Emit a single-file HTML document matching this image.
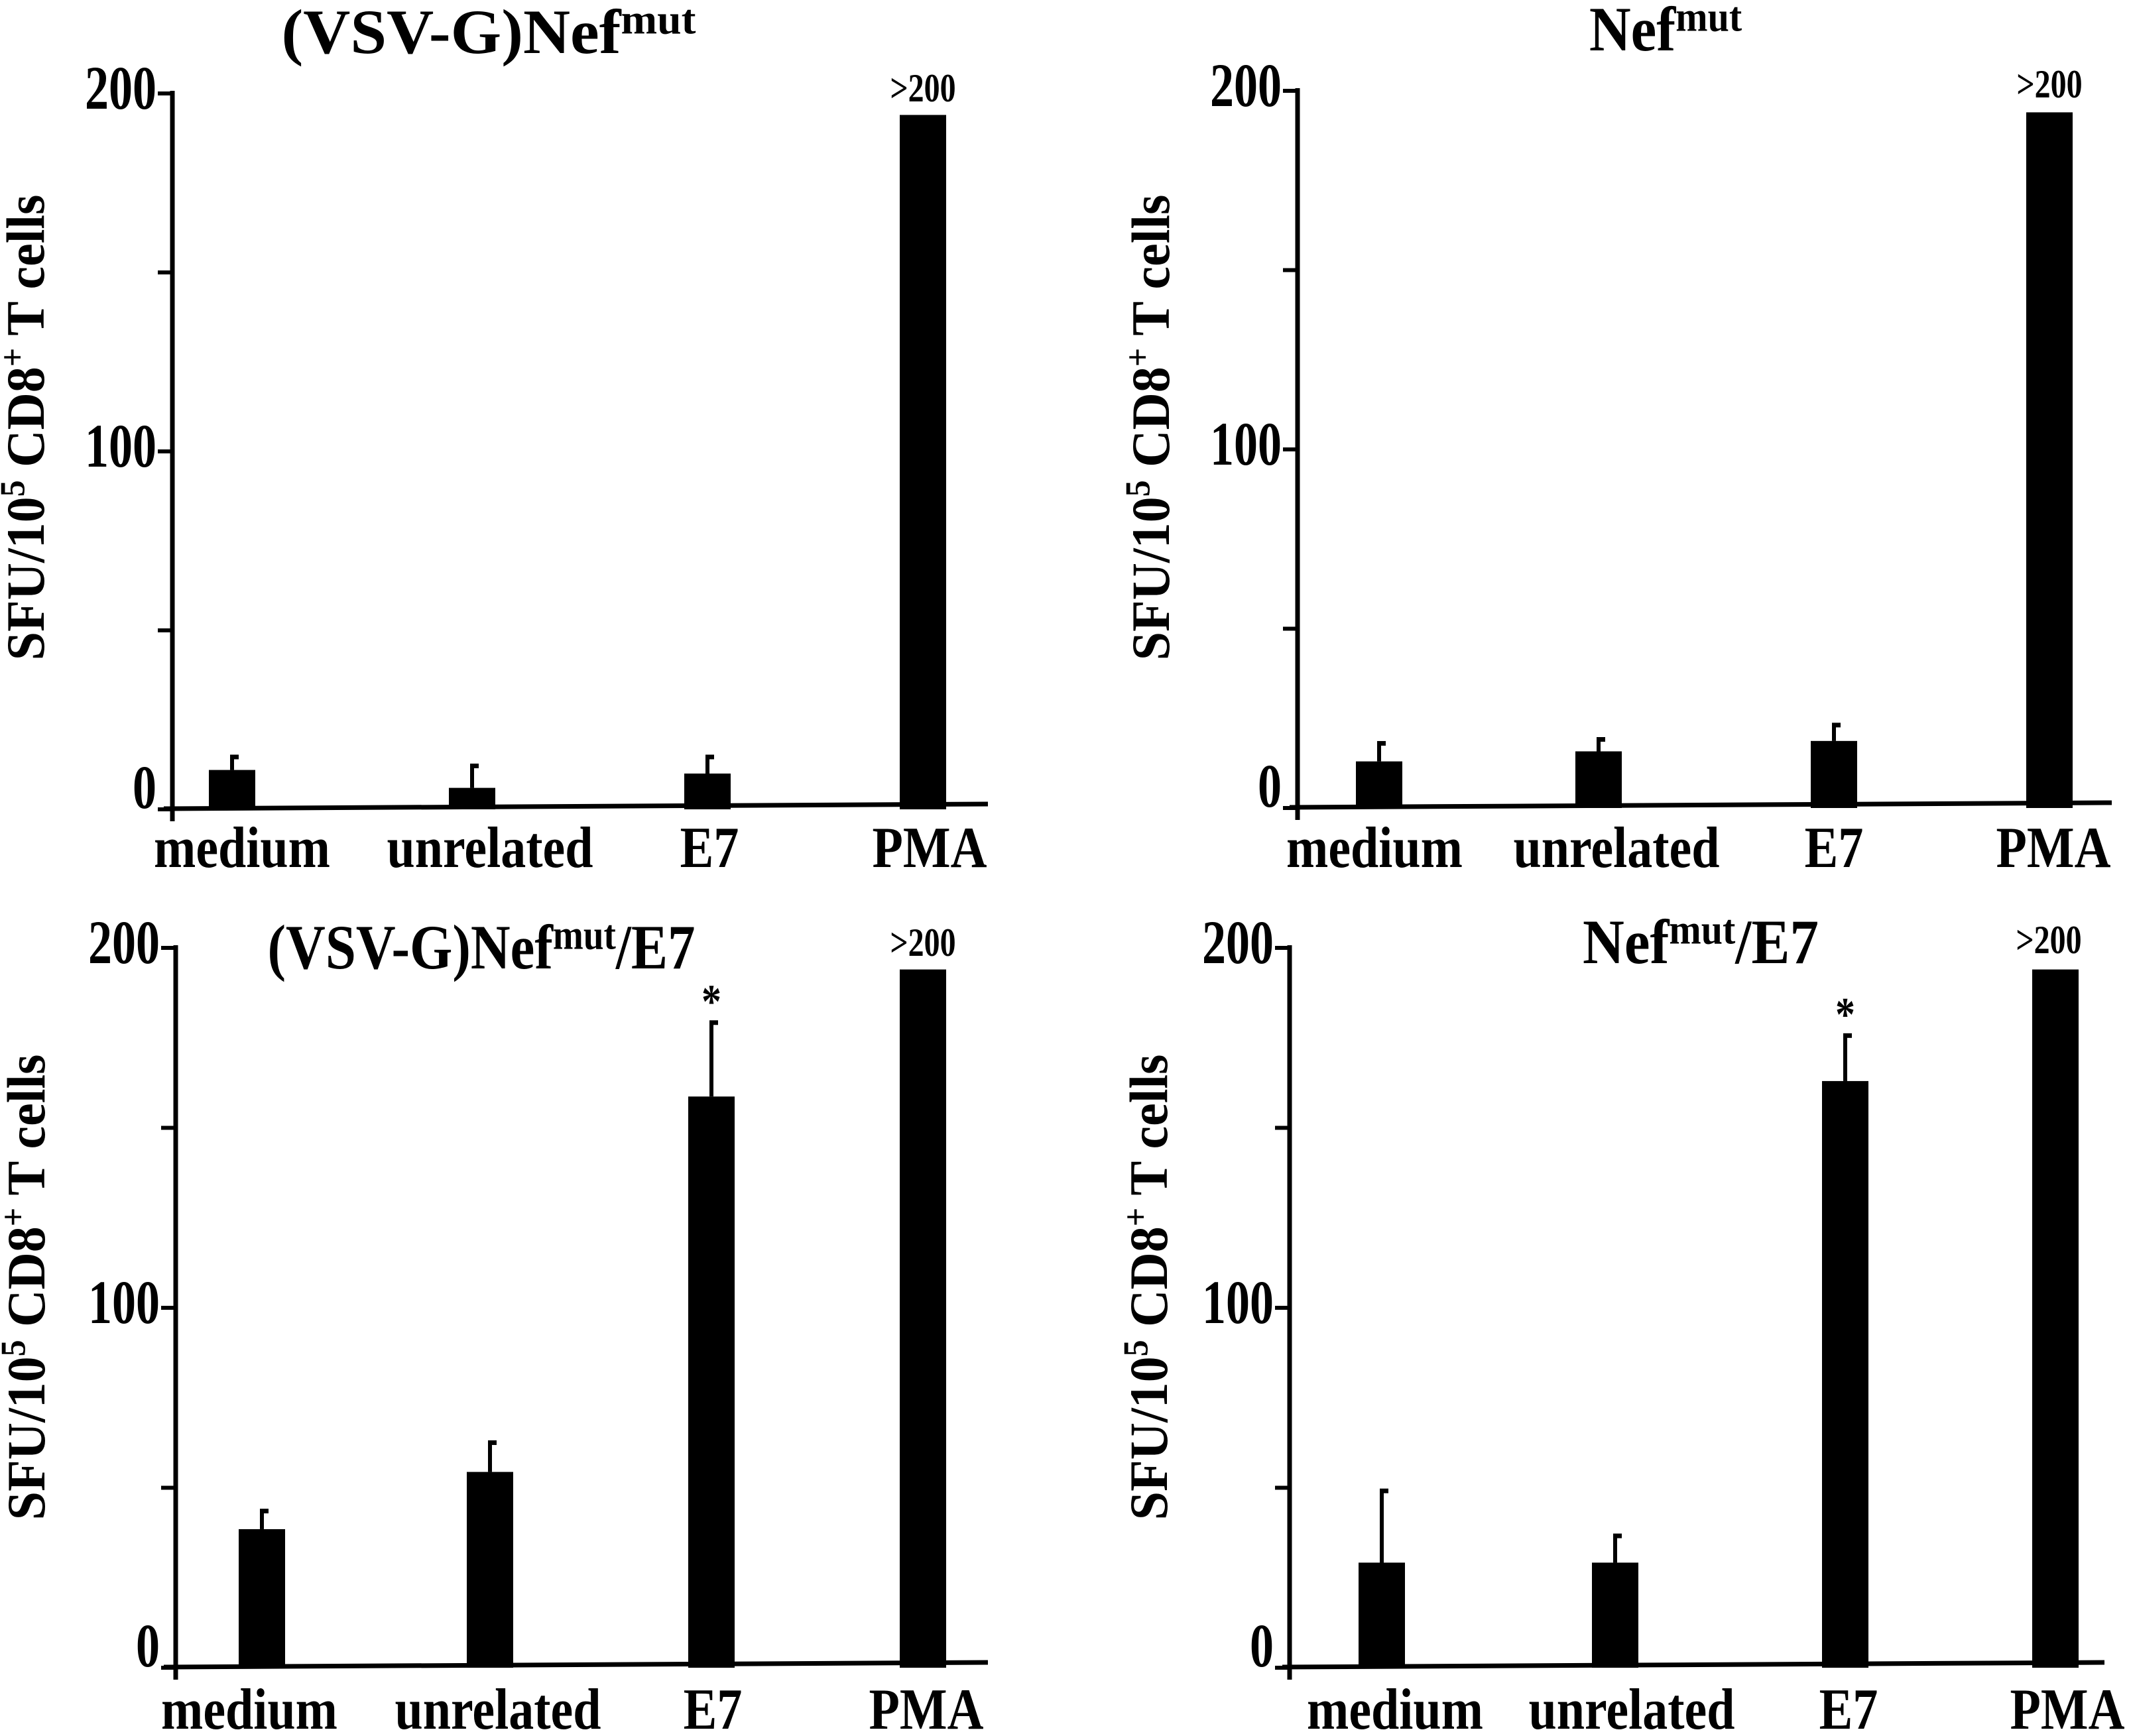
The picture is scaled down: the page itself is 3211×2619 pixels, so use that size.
<!DOCTYPE html>
<html><head><meta charset="utf-8"><style>
html,body{margin:0;padding:0;background:#fff}
svg{display:block}
text{font-family:"Liberation Serif",serif;font-weight:bold;fill:#000}
</style></head><body>
<svg id="fig" width="3211" height="2619" viewBox="0 0 3211 2619" xmlns="http://www.w3.org/2000/svg"></svg>
<script>
const categories = ["medium","unrelated","E7","PMA"];
const yTicks = [0,50,100,150,200];
const yTickLabels = ["0","","100","","200"];
const valsTL = [11, 6, 10, 194];
const errTL = [15, 12.5, 15, 194];
const valsTR = [13, 15.8, 18.7, 194];
const errTR = [18.4, 19.5, 23.5, 194];
const valsBL = [38.5, 54.4, 158.7, 194];
const errBL = [43.9, 62.9, 179.6, 194];
const valsBR = [29.2, 29.2, 163, 194];
const errBR = [49.5, 37, 176, 194];
const starsBL = [false,false,true,false];
const starsBR = [false,false,true,false];

const NS="http://www.w3.org/2000/svg";
const svg=document.getElementById('fig');
function mk(tag,attrs,parent){const e=document.createElementNS(NS,tag);for(const k in attrs)e.setAttribute(k,attrs[k]);(parent||svg).appendChild(e);return e;}
function txt(x,y,sy,attrs,parent){attrs.x=0;attrs.y=0;attrs.transform=`translate(${x},${y}) scale(1,${sy})`;return mk('text',attrs,parent);}

const panels=[
 {id:'tl',title:'(VSV-G)Nef',sup:'mut',post:'',tx:737,ty:80,tlen:625,ax:260,y200:141,y0:1221,xl:247,xr:1490,
  cx:[350,712,1067,1392],lx:[365,739,1070,1402],ly:1308,ytx:40,yty:645,vals:valsTL,errs:errTL,stars:[false,false,false,false],gt:[1392,153]},
 {id:'tr',title:'Nef',sup:'mut',post:'',tx:2512,ty:76,tlen:0,ax:1957,y200:137,y0:1219,xl:1945,xr:3185,
  cx:[2080,2411,2766,3091],lx:[2073,2438,2766,3097],ly:1308,ytx:1737,yty:645,vals:valsTR,errs:errTR,stars:[false,false,false,false],gt:[3091,147]},
 {id:'bl',title:'(VSV-G)Nef',sup:'mut',post:'/E7',tx:726,ty:1461,tlen:645,ax:265,y200:1430,y0:2516,xl:247,xr:1490,
  cx:[395,739,1073,1392],lx:[376,751,1075,1397],ly:2608,ytx:41,yty:1942,vals:valsBL,errs:errBL,stars:starsBL,gt:[1392,1442]},
 {id:'br',title:'Nef',sup:'mut',post:'/E7',tx:2565,ty:1453,tlen:0,ax:1945,y200:1430,y0:2516,xl:1934,xr:3174,
  cx:[2084,2436,2783,3100],lx:[2104,2461,2788,3118],ly:2608,ytx:1734,yty:1942,vals:valsBR,errs:errBR,stars:starsBR,gt:[3090,1438]}
];

panels.forEach(p=>{
 const g=mk('g',{});
 
 
 const y=v=>p.y0-(p.y0-p.y200)*v/200;
 const ta={'text-anchor':'middle','font-size':87};
 if(p.tlen){ta.textLength=p.tlen;ta.lengthAdjust='spacingAndGlyphs';}
 const t=txt(p.tx,p.ty,1.1,ta,g);
 
 
 t.appendChild(document.createTextNode(p.title));
 const ts=mk('tspan',{'font-size':58,dy:-27},t);ts.textContent=p.sup;
 if(p.post){const tp=mk('tspan',{'font-size':87,dy:27},t);tp.textContent=p.post;}
 const ya=mk('line',{x1:p.ax,y1:y(200)-4,x2:p.ax,y2:p.y0+18,stroke:'#000','stroke-width':7},g);
 
 
 yTicks.forEach((v,i)=>{
  const tk=mk('line',{x1:p.ax-22,y1:y(v),x2:p.ax,y2:y(v),stroke:'#000','stroke-width':6},g);
  
  
  if(yTickLabels[i]){
   const tl=txt(p.ax-24,v===0?y(v)-2:y(v)+23,1.3,{'text-anchor':'end','font-size':72},g);
   
   
   tl.textContent=yTickLabels[i];
  }
 });
 const xa=mk('line',{x1:p.xl,y1:p.y0-1,x2:p.xr,y2:p.y0-8,stroke:'#000','stroke-width':7},g);
 
 
 const yt=mk('text',{x:0,y:0,'text-anchor':'middle','font-size':78,transform:`translate(${p.ytx+26},${p.yty}) rotate(-90) scale(1,1.05)`},g);
 
 
 yt.appendChild(document.createTextNode('SFU/10'));
 const s1=mk('tspan',{'font-size':50,dy:-28},yt);s1.textContent='5';
 const s2=mk('tspan',{dy:28},yt);s2.textContent=' CD8';
 const s3=mk('tspan',{'font-size':50,dy:-28},yt);s3.textContent='+';
 const s4=mk('tspan',{dy:28},yt);s4.textContent=' T cells';
 categories.forEach((c,i)=>{
  const v=p.vals[i], top=y(v);
  const b=mk('rect',{x:p.cx[i]-35,y:top,width:70,height:p.y0-top,fill:'#000'},g);
  
  
  if(p.errs[i]>v){
   const ey=y(p.errs[i]);
   const el=mk('line',{x1:p.cx[i],y1:top,x2:p.cx[i],y2:ey,stroke:'#000','stroke-width':6},g);
   
   
   const ec=mk('line',{x1:p.cx[i]-3,y1:ey+2,x2:p.cx[i]+10,y2:ey+2,stroke:'#000','stroke-width':7},g);
   
   
  }
  if(p.stars[i]){
   const st=txt(p.cx[i],y(p.errs[i])-6,1.2,{'text-anchor':'middle','font-size':60},g);
   
   
   st.textContent='*';
  }
  const lb=txt(p.lx[i],p.ly,1.15,{'text-anchor':'middle','font-size':76},g);
  
  
  lb.textContent=c;
 });
 const gt=txt(p.gt[0],p.gt[1],1.25,{'text-anchor':'middle','font-size':48},g);
 
 
 gt.textContent='>200';
});
</script>
</body></html>
